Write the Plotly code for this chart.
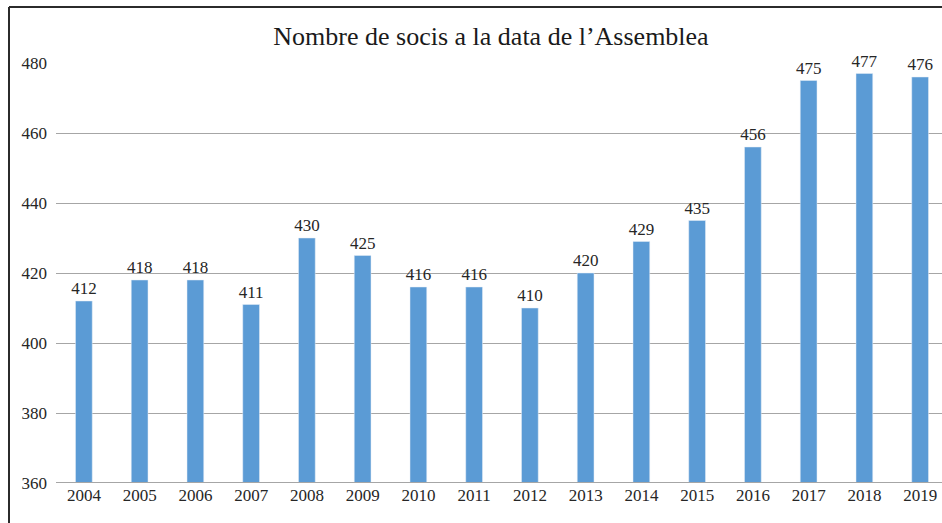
import plotly.graph_objects as go

years = ["2004", "2005", "2006", "2007", "2008", "2009", "2010", "2011",
         "2012", "2013", "2014", "2015", "2016", "2017", "2018", "2019"]
members = [412, 418, 418, 411, 430, 425, 416, 416, 410, 420, 429, 435, 456, 475, 477, 476]
y_ticks = [360, 380, 400, 420, 440, 460, 480]

FONT = "Liberation Serif"
W, H = 942, 523
L, R, T, B = 56, 0, 63, 40
pw, ph = W - L - R, H - T - B

fig = go.Figure(go.Bar(
    x=list(range(len(years))), y=members,
    marker_color="#5b9bd5",
    width=0.3,
    text=[str(v) for v in members],
    textposition="outside",
    constraintext="none",
    textfont=dict(family=FONT, size=17, color="#262626"),
    cliponaxis=False,
))

fig.update_layout(
    width=W, height=H,
    margin=dict(l=L, r=R, t=T, b=B),
    paper_bgcolor="white", plot_bgcolor="white",
    showlegend=False,
    title=dict(text="Nombre de socis a la data de l’Assemblea",
               font=dict(family=FONT, size=26, color="#1a1a1a"),
               x=(491 - L) / pw, xref="paper", xanchor="center",
               y=1 - 36 / H, yref="container", yanchor="middle"),
    xaxis=dict(range=[-0.5, 15.5 - 6 / 55.73],
               tickmode="array", tickvals=list(range(len(years))), ticktext=years,
               tickfont=dict(family=FONT, size=17, color="#262626"),
               showgrid=False, zeroline=False, showline=False, ticks="",
               ticklen=0),
    yaxis=dict(range=[360, 480], tickvals=y_ticks,
               tickfont=dict(family=FONT, size=17, color="#262626"),
               showgrid=True, gridcolor="#a6a6a6", gridwidth=1,
               zeroline=False, showline=False, ticks="", ticklabelstandoff=8),
    shapes=[
        dict(type="line", xref="paper", yref="paper",
             x0=(9 - L) / pw, x1=(9 - L) / pw, y0=1 + (T - 7) / ph, y1=-(B + 5) / ph,
             line=dict(color="#2b2b2b", width=2)),
        dict(type="line", xref="paper", yref="paper",
             x0=(9 - L) / pw, x1=1.01, y0=1 + (T - 7) / ph, y1=1 + (T - 7) / ph,
             line=dict(color="#2b2b2b", width=2)),
        dict(type="line", xref="paper", yref="y",
             x0=0, x1=1, y0=360, y1=360,
             line=dict(color="#a6a6a6", width=2)),
    ],
)

fig.write_html("out.html", config={"displayModeBar": False},
               post_script="document.body.style.margin='0';document.body.style.overflow='hidden';")
